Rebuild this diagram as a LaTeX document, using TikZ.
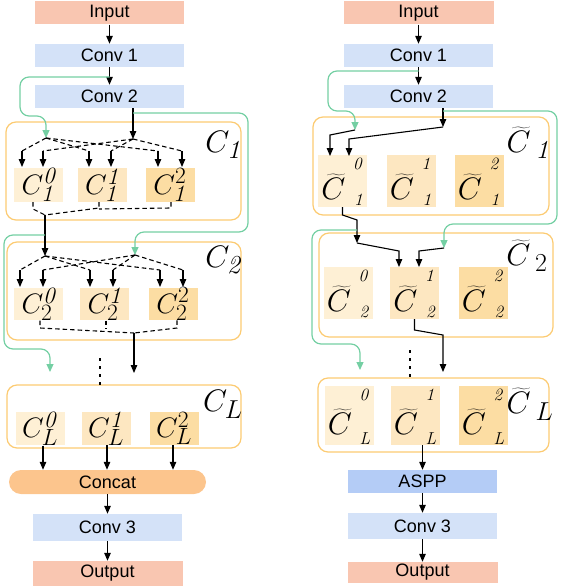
\documentclass[tikz,border=0pt]{standalone}
\usepackage{fontspec}
\usepackage{graphicx}
\newfontfamily\hel{Liberation Sans}
\usetikzlibrary{arrows.meta,calc}
\definecolor{salmon}{HTML}{F9C6B1}
\definecolor{lblue}{HTML}{D4E2F8}
\definecolor{dblue}{HTML}{B4CCF6}
\definecolor{concatc}{HTML}{FCC58D}
\definecolor{oborder}{HTML}{FCCB72}
\definecolor{cz}{HTML}{FEF0D5}
\definecolor{co}{HTML}{FDE7C1}
\definecolor{ct}{HTML}{FCDDA3}
\definecolor{gline}{HTML}{74CFA3}
\newcommand\mthA[1]{\scalebox{1.13}{$#1$}}
\newcommand\mthB[1]{\scalebox{1.25}{$#1$}}
\newcommand\tcl[7]{%
  \node[cell, minimum height=#4pt, fill=#5] (#1) at (#2,#3) {};
  \node[tcm] (#1m) at ([shift={(-9,6)}]#1.center) {\mthB{\widetilde{C}}};
  \node[tcs] (#1p) at ([shift={(15,9)}]#1.north) {$\mathit{#6}$};
  \node[tcs] (#1b) at ([shift={(16,-7)}]#1.south) {$\mathit{#7}$};
}
\begin{document}
\begin{tikzpicture}[x=1pt,y=-1pt,
  blk/.style={rectangle, inner sep=0pt, minimum width=149pt, minimum height=23pt, font=\hel\fontsize{18}{18}\selectfont},
  grp/.style={rectangle, draw=oborder, line width=1.2pt, rounded corners=10pt, inner sep=0pt, fill=white},
  cell/.style={rectangle, inner sep=0pt, minimum width=49pt, font=\fontsize{24.88}{25}\selectfont},
  tcm/.style={inner sep=0pt, font=\fontsize{24.88}{25}\selectfont},
  tcs/.style={inner sep=0pt, font=\fontsize{17.28}{18}\selectfont},
  lbl/.style={inner sep=0pt, font=\fontsize{24.88}{25}\selectfont},
  arr/.style={-{Triangle[length=8pt,width=6.5pt]}, line width=1.1pt, black},
  ln/.style={line width=1.1pt, black},
  dsh/.style={line width=1.1pt, black, dash pattern=on 4.5pt off 3pt},
  garr/.style={gline, line width=1.2pt, rounded corners=9pt, -{Triangle[length=8pt,width=7pt]}},
  dots/.style={line width=2.6pt, dash pattern=on 2.8pt off 5.2pt}
]
\useasboundingbox (0,0) rectangle (560,586);

% ================= LEFT =================
\node[blk, fill=salmon] (inL) at (109.5,13) {Input};
\node[blk, fill=lblue] (cv1L) at (109.5,55.5) {Conv 1};
\node[blk, fill=lblue] (cv2L) at (109.5,96.5) {Conv 2};

\node[grp, minimum width=235pt, minimum height=98pt] (gC1) at (123.5,171) {};
\node[grp, minimum width=234pt, minimum height=98pt] (gC2) at (124,291) {};
\node[grp, minimum width=234pt, minimum height=63pt] (gCL) at (124,416.5) {};

\node[lbl] (lC1) at (223,145) {\mthB{C_{\mathit{1}}}};
\node[lbl] (lC2) at (223,260) {\mthB{C_{\mathit{2}}}};
\node[lbl] (lCL) at (223,404) {\mthB{C_{L}}};

\node[cell, minimum height=34pt, fill=cz] (a10) at (38.5,185) {\mthA{C^{\mathit{0}}_{\mathit{1}}}};
\node[cell, minimum height=34pt, fill=co] (a11) at (102,185) {\mthA{C^{\mathit{1}}_{\mathit{1}}}};
\node[cell, minimum height=34pt, fill=ct] (a12) at (170,185) {\mthA{C^{2}_{\mathit{1}}}};

\node[cell, minimum height=32pt, fill=cz] (a20) at (38.5,304) {\mthA{C^{\mathit{0}}_{2}}};
\node[cell, minimum height=32pt, fill=co] (a21) at (104.5,304) {\mthA{C^{\mathit{1}}_{2}}};
\node[cell, minimum height=32pt, fill=ct] (a22) at (173,304) {\mthA{C^{2}_{2}}};

\node[cell, minimum height=33pt, fill=cz] (aL0) at (40,428.5) {\mthA{C^{\mathit{0}}_{L}}};
\node[cell, minimum height=33pt, fill=co] (aL1) at (106,428.5) {\mthA{C^{\mathit{1}}_{L}}};
\node[cell, minimum height=33pt, fill=ct] (aL2) at (174,428.5) {\mthA{C^{2}_{L}}};

\node[blk, fill=concatc, rounded corners=12pt, minimum width=197pt, minimum height=24pt] (ccL) at (107.5,482) {Concat};
\node[blk, fill=lblue, minimum height=27pt] (cv3L) at (107.5,527.5) {Conv 3};
\node[blk, fill=salmon, minimum width=150pt, minimum height=25pt] (outL) at (107.5,573.5) {Output};

\draw[arr] (inL) -- (cv1L);
\draw[arr] (cv1L) -- (cv2L);

\coordinate (mL1) at (46,138);
\coordinate (mR1) at (133,139);
\coordinate (gsL1) at (109.5,77);
\coordinate (gsR1) at (133,113);
\draw[garr] (gsL1) -- (20,77) -- (20,116) -- (46,116) -- (mL1);
\draw[arr] (cv2L.south -| mR1) -- (mR1);
\draw[garr] (gsR1) -- (248,113) -- (248,232) -- (135,232) -- (135,255);

\foreach \x in {22,89,158} {
  \draw[dsh] (mL1) -- (\x,151);
  \draw[arr] (\x,151) -- (\x,167);
}
\foreach \x in {43,111,182} {
  \draw[dsh] (mR1) -- (\x,151);
  \draw[arr] (\x,151) -- (\x,167);
}

\coordinate (j1) at (45,215);
\draw[dsh] (a10.south -| 33,0) -- (33,209) -- (j1);
\draw[dsh] (a11.south -| 99,0) -- (99,208) -- (j1);
\draw[dsh] (a12.south -| 171,0) -- (171,208) -- (99,209);

\coordinate (mL2) at (45,256);
\coordinate (mR2) at (135,255);
\draw[arr] (j1) -- (mL2);
\draw[garr] (45,235) -- (4,235) -- (4,349) -- (50,349) -- (50,372);

\foreach \x in {20,90,160} {
  \draw[dsh] (mL2) -- (\x,270);
  \draw[arr] (\x,270) -- (\x,287);
}
\foreach \x in {43,113,183} {
  \draw[dsh] (mR2) -- (\x,270);
  \draw[arr] (\x,270) -- (\x,287);
}

\coordinate (j2) at (134,333);
\draw[dsh] (a20.south -| 40,0) -- (40,328) -- (j2);
\draw[dsh] (a21.south -| 106,0) -- (106,329);
\draw[dsh] (a22.south -| 177,0) -- (177,328) -- (j2);
\draw[arr] (j2) -- (134,373);
\draw[dots] (100,358) -- (100,386);

\draw[arr] (aL0.south -| 43,0) -- (ccL.north -| 43,0);
\draw[arr] (aL1.south -| 107,0) -- (ccL.north -| 107,0);
\draw[arr] (aL2.south -| 173,0) -- (ccL.north -| 173,0);
\draw[arr] (ccL) -- (cv3L);
\draw[arr] (cv3L) -- (outL);

% ================= RIGHT =================
\node[blk, fill=salmon, minimum width=150pt] (inR) at (418.5,13) {Input};
\node[blk, fill=lblue] (cv1R) at (418.5,55.5) {Conv 1};
\node[blk, fill=lblue] (cv2R) at (418.5,96.5) {Conv 2};

\node[grp, minimum width=236pt, minimum height=98pt] (tG1) at (431,166) {};
\node[grp, minimum width=234pt, minimum height=104pt] (tG2) at (436,285) {};
\node[grp, minimum width=231pt, minimum height=74pt] (tGL) at (433.5,415) {};

\node[lbl] (lT1) at (528,143) {\mthB{\widetilde{C}_{\;\mathit{1}}}};
\node[lbl] (lT2) at (527,256) {\mthB{\widetilde{C}_{\;2}}};
\node[lbl] (lTL) at (530,404) {\mthB{\widetilde{C}_{\;L}}};

\tcl{t10}{342.5}{181}{52}{cz}{0}{1}
\tcl{t11}{411}{181}{52}{co}{1}{1}
\tcl{t12}{479}{181}{52}{ct}{2}{1}

\tcl{t20}{348}{293}{52}{cz}{0}{2}
\tcl{t21}{414.5}{293}{52}{co}{1}{2}
\tcl{t22}{483}{293}{52}{ct}{2}{2}

\tcl{tL0}{349}{415.5}{59}{cz}{0}{L}
\tcl{tL1}{415}{415.5}{59}{co}{1}{L}
\tcl{tL2}{483}{415.5}{59}{ct}{2}{L}

\node[blk, fill=dblue] (aspp) at (422.5,481.5) {ASPP};
\node[blk, fill=lblue, minimum height=26pt] (cv3R) at (422.5,526) {Conv 3};
\node[blk, fill=salmon, minimum width=150pt, minimum height=21pt] (outR) at (422.5,572.5) {Output};

\draw[arr] (inR) -- (cv1R);
\draw[arr] (cv1R) -- (cv2R);

\coordinate (gR1) at (355,130);
\coordinate (bR1) at (443,127);
\draw[garr] (418.5,71) -- (328,71) -- (328,111) -- (355,111) -- (gR1);
\draw[arr] (cv2R.south -| bR1) -- (bR1);
\draw[garr] (443,111) -- (557,111) -- (557,224) -- (444,224) -- (444,248);

\draw[arr] (gR1) -- (330,135) -- (330,156);
\draw[arr] (bR1) -- (349,139) -- (349,156);

\coordinate (jR1) at (357,243);
\coordinate (gR2) at (444,248);
\draw[arr] (t10.south) -- (342.5,215) -- (357,220) -- (jR1);
\draw[arr] (jR1) -- (399,251) -- (399,267);
\draw[arr] (gR2) -- (419,251) -- (419,267);
\draw[garr] (357,230) -- (312,230) -- (312,344) -- (360,344) -- (360,370);

\draw[arr] (t21.south) -- (414.5,330) -- (443,335) -- (443,372);
\draw[dots] (410,350) -- (410,378);

\draw[arr] (tL1.south -| aspp) -- (aspp);
\draw[arr] (aspp) -- (cv3R);
\draw[arr] (cv3R) -- (outR);
\end{tikzpicture}
\end{document}
